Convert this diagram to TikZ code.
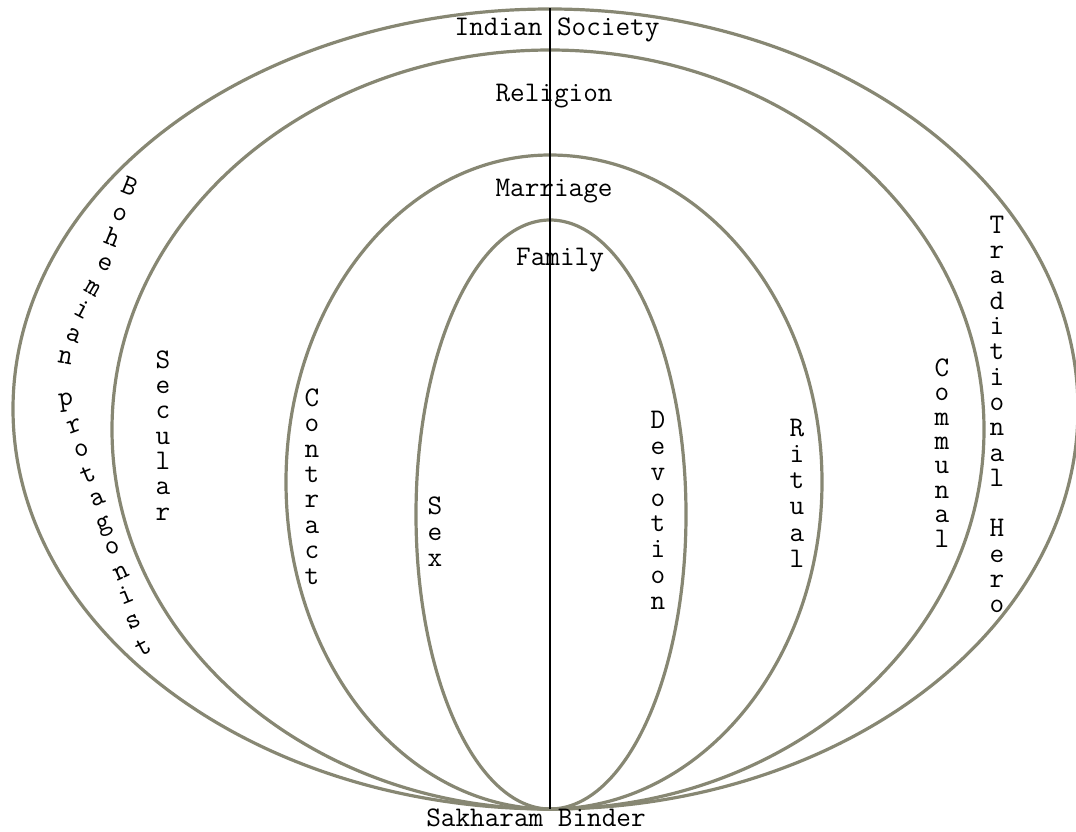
\documentclass[tikz,border=0pt]{standalone}
\usepackage{fontspec}
\definecolor{ringcol}{RGB}{135,135,115}
\tikzset{
  ring/.style={draw=ringcol, line width=1.6pt},
  axisline/.style={draw=black, line width=0.6pt},
  lbl/.style={font=\ttfamily\fontsize{14.2}{14.2}\selectfont, inner sep=0pt, anchor=mid},
}
\newcommand\eggpath[4]{%
  \pgfmathsetmacro\eYc{(#1+#2)/2}%
  \pgfmathsetmacro\eKh{0.5523*(#2-#1)/2}%
  \pgfmathsetmacro\eKl{0.5523*#3}%
  \pgfmathsetmacro\eKr{0.5523*#4}%
  \pgfmathsetmacro\eXl{550-#3}%
  \pgfmathsetmacro\eXr{550+#4}%
  \draw[ring] (550,#1) .. controls ({550-\eKl},#1) and (\eXl,{\eYc-\eKh}) .. (\eXl,\eYc)
    .. controls (\eXl,{\eYc+\eKh}) and ({550-\eKl},#2) .. (550,#2)
    .. controls ({550+\eKr},#2) and (\eXr,{\eYc+\eKh}) .. (\eXr,\eYc)
    .. controls (\eXr,{\eYc-\eKh}) and ({550+\eKr},#1) .. (550,#1) -- cycle;
}
\newcommand\vstack[5]{%
  \foreach \c [count=\i from 0] in {#5}
    \node[lbl] (#1\i) at (#2,{#3+\i*#4}) {\c};
}
\begin{document}
\begin{tikzpicture}[x=0.5pt,y=-0.5pt]
\useasboundingbox (0,0) rectangle (1076,831);
% nested rings, all tangent at the bottom point
\eggpath{9}{809}{537}{528}
\eggpath{50}{809}{438}{434}
\eggpath{155}{809}{264}{272}
\eggpath{220}{809}{134}{136}
% horizontal labels
\node[lbl] (soc) at (557,31) {Indian Society};
\node[lbl] (rel) at (554,97) {Religion};
\node[lbl] (mar) at (554,192) {Marriage};
\node[lbl] (fam) at (560,261) {Family};
\node[lbl] (sak) at (536,822) {Sakharam Binder};
% vertical stacked labels
\vstack{sec}{163}{364}{25.3}{S,e,c,u,l,a,r}
\vstack{con}{312}{402}{25.4}{C,o,n,t,r,a,c,t}
\vstack{sex}{435}{510}{26}{S,e,x}
\vstack{dev}{658}{424}{25.9}{D,e,v,o,t,i,o,n}
\vstack{rit}{797}{432}{26.2}{R,i,t,u,a,l}
\vstack{com}{942}{372}{24.4}{C,o,m,m,u,n,a,l}
\vstack{tra}{997}{229}{25.3}{T,r,a,d,i,t,i,o,n,a,l,{},H,e,r,o}
% curved label
\foreach \c/\x/\y/\r [count=\i] in {B/128/190/-22,o/119/216/-22,h/111/241/-22,e/104/266/-25,m/92/290/-30,i/81/313/-28,a/73/337/-22,n/65/360/-10,p/66/401/8,r/75/428/20,o/82/452/20,t/89/478/22,a/98/501/22,g/104/526/22,o/113/549/25,n/122/574/25,i/127/599/22,s/134/623/25,t/145/650/28}
  \node[lbl, rotate=\r] (bp\i) at (\x,\y) {\c};
% central axis
\coordinate (axtop) at (550,8);
\coordinate (axbot) at (550,809);
\draw[axisline] (axtop) -- (axbot);
\end{tikzpicture}
\end{document}
